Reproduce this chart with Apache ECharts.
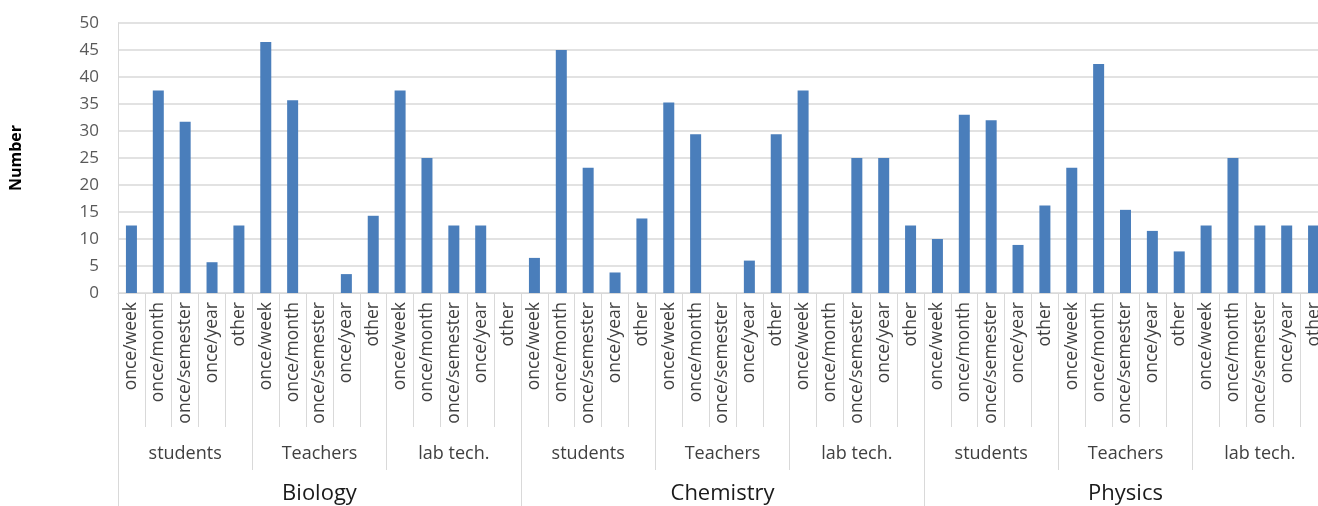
<!DOCTYPE html>
<html>
<head>
<meta charset="utf-8">
<script src="https://cdn.jsdelivr.net/npm/echarts@6/dist/echarts.min.js"></script>
<style>
  html, body { margin: 0; padding: 0; background: #ffffff; overflow: hidden; }
  /* the plot runs slightly past the right edge of the window */
  #chart { width: 1330px; height: 506px; }
</style>
</head>
<body>
<div id="chart"></div>
<script>
// Category hierarchy: subject > group > frequency
const subjects = ['Biology', 'Chemistry', 'Physics'];
const groups = ['students', 'Teachers', 'lab tech.'];
const frequencies = ['once/week', 'once/month', 'once/semester', 'once/year', 'other'];

// Values per subject, in order students(5), Teachers(5), lab tech.(5)
const biology   = [12.5, 37.5, 31.7, 5.7, 12.5,  46.5, 35.7, 0, 3.5, 14.3,  37.5, 25, 12.5, 12.5, 0];
const chemistry = [6.5, 45.0, 23.2, 3.8, 13.8,   35.3, 29.4, 0, 6.0, 29.4,  37.5, 0, 25, 25, 12.5];
const physics   = [10.0, 33.0, 32.0, 8.9, 16.2,  23.2, 42.4, 15.4, 11.5, 7.7,  12.5, 25, 12.5, 12.5, 12.5];

const yTicks = { min: 0, max: 50, interval: 5 };

// Flattened axis labels for the three levels
const freqLabels = [];
const groupLabels = [];
subjects.forEach(() => {
  groups.forEach(g => {
    groupLabels.push(g);
    frequencies.forEach(f => freqLabels.push(f));
  });
});
const values = [].concat(biology, chemistry, physics);

const lineGrey = '#d9d9d9';
const fontFamily = '"Open Sans", Lato, sans-serif';

const chart = echarts.init(document.getElementById('chart'), null, { renderer: 'canvas' });
chart.setOption({
  animation: false,
  backgroundColor: '#ffffff',
  grid: { left: 112, top: 23, height: 270, right: 3, containLabel: false },
  xAxis: [
    {
      type: 'category',
      data: freqLabels,
      position: 'bottom',
      axisLine: { show: true, lineStyle: { color: lineGrey, width: 1 } },
      axisTick: { show: true, interval: 0, length: 134, lineStyle: { color: lineGrey, width: 1 } },
      axisLabel: {
        interval: 0, rotate: 90, margin: 9,
        fontFamily, fontSize: 17.5, color: '#404040'
      }
    },
    {
      type: 'category',
      data: groupLabels,
      position: 'bottom',
      axisLine: { show: false },
      axisTick: { show: true, interval: 0, length: 177, lineStyle: { color: lineGrey, width: 1 } },
      axisLabel: { interval: 0, margin: 152, fontFamily, fontSize: 18, color: '#404040' }
    },
    {
      type: 'category',
      data: subjects,
      position: 'bottom',
      axisLine: { show: false },
      axisTick: { show: true, interval: 0, length: 220, lineStyle: { color: lineGrey, width: 1 } },
      axisLabel: { interval: 0, margin: 190, fontFamily, fontSize: 22, color: '#1a1a1a' }
    }
  ],
  yAxis: {
    type: 'value',
    min: yTicks.min, max: yTicks.max, interval: yTicks.interval,
    name: 'Number',
    nameLocation: 'middle',
    nameRotate: 90,
    nameGap: 94,
    nameTextStyle: { fontFamily, fontSize: 16, fontWeight: 'bold', color: '#000000' },
    axisLine: { show: true, lineStyle: { color: lineGrey, width: 1 } },
    axisTick: { show: false },
    axisLabel: { margin: 19, fontFamily, fontSize: 17, color: '#595959' },
    splitLine: { show: true, lineStyle: { color: lineGrey, width: 1.5 } }
  },
  series: [
    {
      type: 'bar',
      xAxisIndex: 0,
      data: values,
      barWidth: 11,
      itemStyle: { color: '#4a7ebb' }
    }
  ]
});
</script>
</body>
</html>
